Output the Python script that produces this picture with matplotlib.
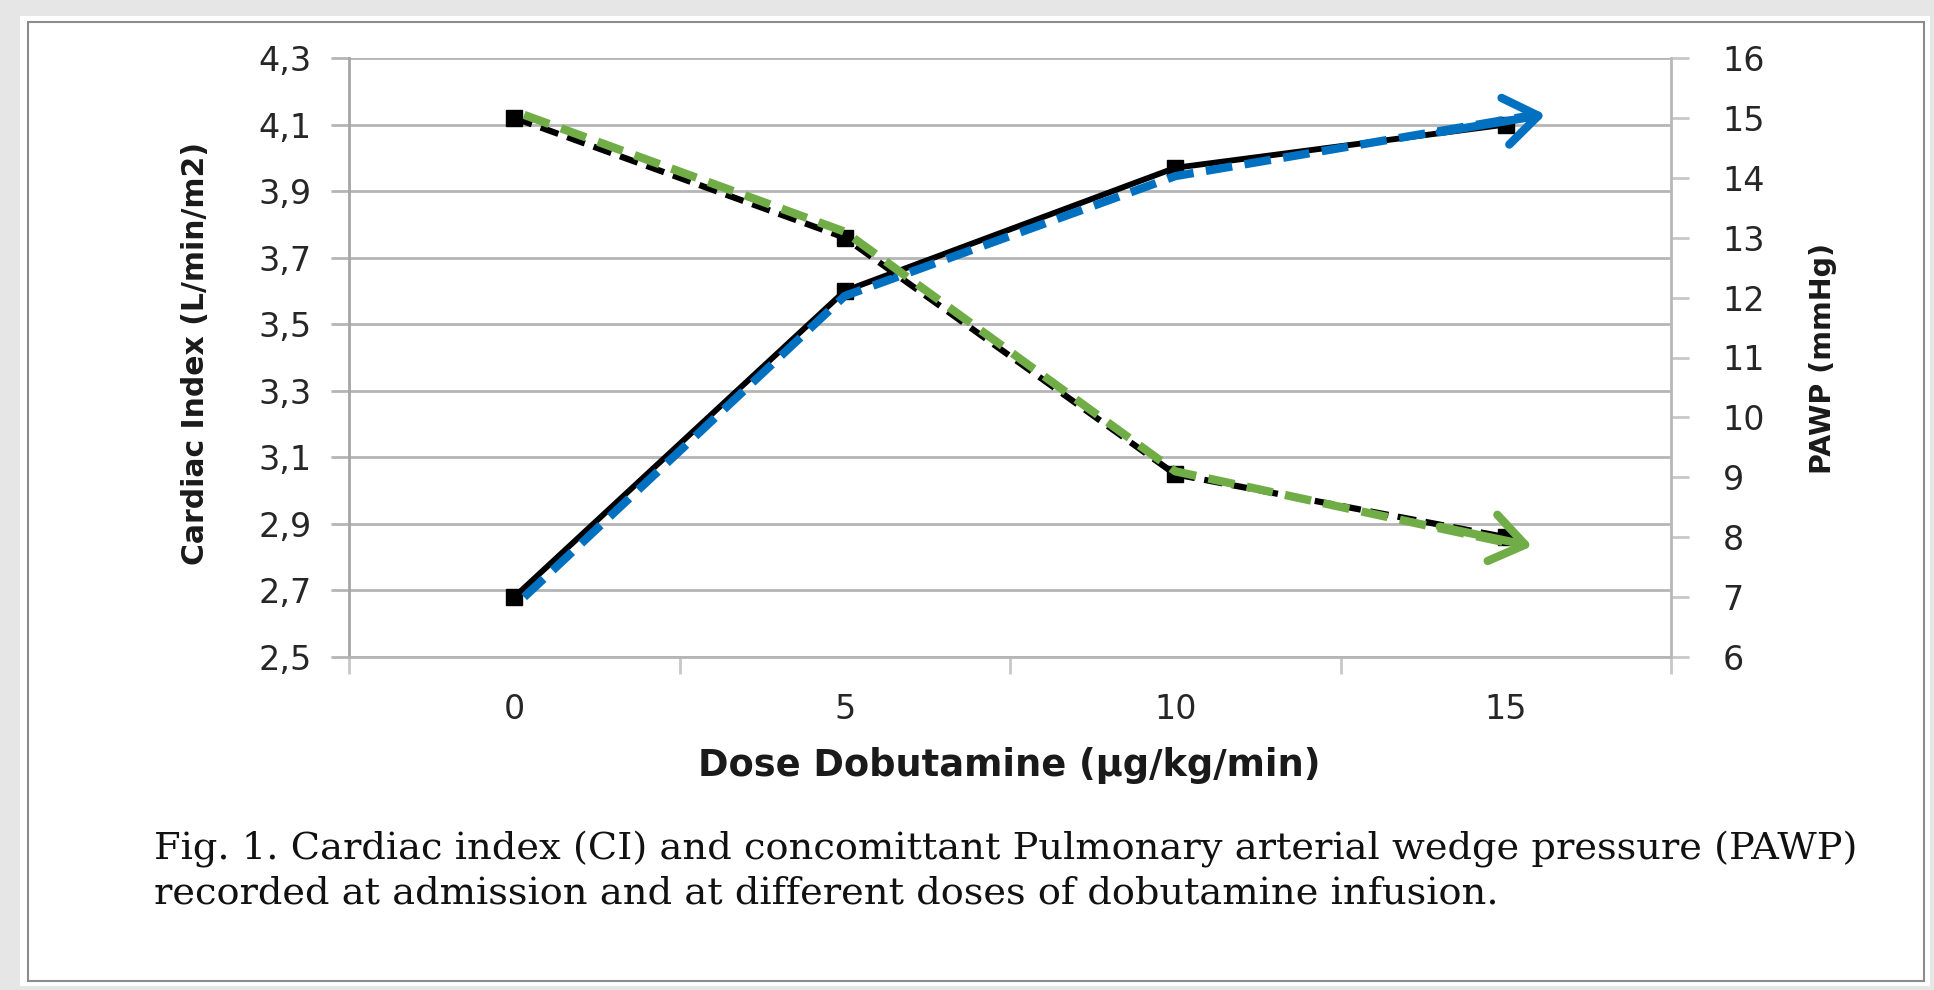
import numpy as np
import matplotlib
matplotlib.use('Agg')
import matplotlib.pyplot as plt
from matplotlib.patches import Rectangle


# data
doses = [0, 5, 10, 15]                 # µg/kg/min
cardiac_index = [2.68, 3.60, 3.97, 4.10]  # L/min/m2
pawp = [15.0, 13.0, 9.05, 8.0]           # mmHg

# hand drawn trend arrows laid over the curves (x in category units)
ci_trend_x = [0.03, 1.0, 2.0, 3.12]
ci_trend_y = [2.68, 3.585, 3.945, 4.13]
pawp_trend_x = [0.03, 1.0, 2.0, 3.08]
pawp_trend_y = [15.05, 13.1, 9.1, 7.85]

ci_ticks = np.round(np.arange(2.5, 4.31, 0.2), 1)
pawp_ticks = list(range(6, 17))

caption = ["Fig. 1. Cardiac index (CI) and concomittant Pulmonary arterial wedge pressure (PAWP)",
           "recorded at admission and at different doses of dobutamine infusion."]

W, H = 1934, 990
grid_c = '#b5b5b5'
blue = '#0070C0'
green = '#70AD47'

fig = plt.figure(figsize=(W / 100, H / 100), dpi=100, facecolor='#e6e6e6')

# white page with a thin frame
fig.patches.append(Rectangle((20 / W, 1 - 986 / H), 1910 / W, 970 / H, transform=fig.transFigure,
                             facecolor='white', edgecolor='none', zorder=-5))
fig.patches.append(Rectangle((28 / W, 1 - 981 / H), 1896 / W, 959 / H, transform=fig.transFigure,
                             facecolor='none', edgecolor='#8c8c8c', lw=1.5, zorder=-4))

ax = fig.add_axes([349 / W, 1 - 657 / H, (1671 - 349) / W, (657 - 58) / H])
ax.patch.set_alpha(0)
ax2 = ax.twinx()

idx = np.arange(len(doses))
dash = (0, (3.2, 1.5))
head = '->,head_length=1.2,head_width=0.85'


def trend(a, xs, ys, color):
    # dashed line, then an open arrow head at the end
    a.plot(xs[:-1] + [xs[-1] - 0.06], ys[:-1] + [ys[-1] - 0.03 * (ys[-1] - ys[-2])],
           color=color, lw=6, ls=dash, zorder=4)
    start = (xs[-2] + 0.8, ys[-2] + 0.8 * (ys[-1] - ys[-2]) / (xs[-1] - xs[-2]))
    a.annotate('', xy=(xs[-1], ys[-1]), xytext=start,
               arrowprops=dict(arrowstyle=head, color=color, lw=6, mutation_scale=20,
                               shrinkA=0, shrinkB=0, capstyle='round', joinstyle='round'),
               zorder=5)


# CI - left axis
ax.plot(idx, cardiac_index, color='black', lw=4.2, marker='s', ms=11, zorder=3)
trend(ax, ci_trend_x, ci_trend_y, blue)

# PAWP - right axis
ax2.plot(idx, pawp, color='black', lw=4.5, ls=(0, (3, 1.5)), marker='s', ms=11, zorder=3)
trend(ax2, pawp_trend_x, pawp_trend_y, green)

# axes
ax.set_xlim(-0.5, len(doses) - 0.5)
ax.set_ylim(2.5, 4.3)
ax2.set_ylim(6, 16)

ax.set_yticks(ci_ticks)
ax.set_yticklabels([f'{v:.1f}'.replace('.', ',') for v in ci_ticks])
ax2.set_yticks(pawp_ticks)
ax.yaxis.grid(True, color=grid_c, lw=2)
ax.set_axisbelow(True)

ax.set_xticks(np.arange(-0.5, len(doses), 1.0))
ax.set_xticklabels([])
ax.set_xticks(idx, minor=True)
ax.set_xticklabels([str(d) for d in doses], minor=True)

ax.tick_params(axis='y', length=13, width=2, color=grid_c, pad=14, labelsize=24, labelcolor='#262626')
ax2.tick_params(axis='y', length=13, width=2, color='#c8c8c8', pad=24, labelsize=24, labelcolor='#262626')
ax.tick_params(axis='x', which='major', length=12, width=2, color='#c8c8c8')
ax.tick_params(axis='x', which='minor', length=0, pad=26, labelsize=24, labelcolor='#262626')

for a in (ax, ax2):
    a.spines['top'].set_visible(False)
ax.spines['right'].set_visible(False)
for s in ('left', 'bottom'):
    ax2.spines[s].set_visible(False)
ax.spines['left'].set_color('#a6a6a6')
ax.spines['left'].set_linewidth(2)
ax.spines['bottom'].set_color(grid_c)
ax.spines['bottom'].set_linewidth(2)
ax2.spines['right'].set_color('#b8b8b8')
ax2.spines['right'].set_linewidth(2)

fig.text(1009 / W, 1 - 765 / H, 'Dose Dobutamine (µg/kg/min)', ha='center', va='center',
         fontsize=26.5, fontweight='bold', color='#1a1a1a')
fig.text(195 / W, 1 - 353 / H, 'Cardiac Index (L/min/m2)', ha='center', va='center',
         rotation=90, fontsize=21.5, fontweight='bold', color='#1a1a1a')
fig.text(1823 / W, 1 - 358 / H, 'PAWP (mmHg)', ha='center', va='center',
         rotation=90, fontsize=20.5, fontweight='bold', color='#1a1a1a')

fig.text(154 / W, 1 - 860 / H, caption[0], ha='left', va='baseline', family='DejaVu Serif',
         fontsize=27.6, color='#111111')
fig.text(154 / W, 1 - 903 / H, caption[1], ha='left', va='baseline', family='DejaVu Serif',
         fontsize=27.6, color='#111111')

fig.savefig('out.png', dpi=100, facecolor=fig.get_facecolor())
